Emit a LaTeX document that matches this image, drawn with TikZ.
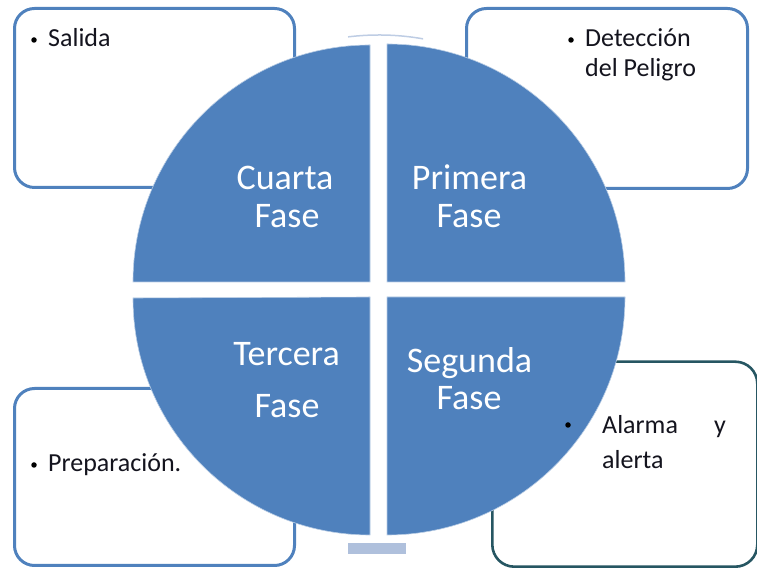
\documentclass[tikz,border=0pt]{standalone}
\usepackage{fontspec}
\setmainfont{Carlito}
\definecolor{qblue}{RGB}{79,129,189}
\definecolor{boxblue}{RGB}{79,129,189}
\definecolor{boxteal}{RGB}{38,86,98}
\definecolor{barblue}{RGB}{175,192,220}
\definecolor{arcblue}{RGB}{190,205,228}
\definecolor{itemtext}{RGB}{20,20,30}
\tikzset{
  quad/.style={fill=qblue, draw=qblue!40!white, line width=0.6pt},
  infobox/.style={draw=boxblue, line width=3pt, rounded corners=20pt, fill=white},
  tealbox/.style={draw=boxteal, line width=2.6pt, rounded corners=22pt, fill=white},
  phase/.style={text=white, font=\fontsize{36}{40}\selectfont, inner sep=0pt, anchor=base},
  item/.style={text=itemtext, font=\fontsize{26}{30}\selectfont, inner sep=0pt, anchor=base west},
  dot/.style={circle, fill=black, inner sep=0pt, minimum size=5.5pt}
}
\begin{document}
\begin{tikzpicture}[x=1pt,y=1pt]
\useasboundingbox (0,0) rectangle (757,569);
% boxes
\node[infobox, minimum width=280pt, minimum height=179pt, anchor=south west] (boxTL) at (13,380) {};
\node[infobox, minimum width=281pt, minimum height=180pt, anchor=south west] (boxTR) at (465,379) {};
\node[infobox, minimum width=280pt, minimum height=177pt, anchor=south west] (boxBL) at (13,2) {};
\node[tealbox, minimum width=265pt, minimum height=205pt, anchor=south west] (boxBR) at (491,1) {};
% faint arc and bar
\draw[arcblue, line width=1.5pt] (379,280) ++(97:254) arc[start angle=97, end angle=80, radius=254];
\fill[barblue] (348,15) rectangle (406,26);
% quadrants
\path[quad] (370,287) -- (133,287) arc[start angle=180, end angle=90, radius=237] -- cycle;
\path[quad] (387,287) -- (387,525) arc[start angle=90, end angle=0, radius=238] -- cycle;
\path[quad] (387,272) -- (625,272) arc[start angle=0, end angle=-90, radius=238] -- cycle;
\path[quad] (370,272) -- (370,34) arc[start angle=270, end angle=180, radius=237] -- cycle;
% phase labels
\node[phase] (q4a) at (285,379) {Cuarta};
\node[phase] (q4b) at (287,341) {Fase};
\node[phase] (q1a) at (469.5,379) {Primera};
\node[phase] (q1b) at (469,341) {Fase};
\node[phase] (q3a) at (286.5,203) {Tercera};
\node[phase] (q3b) at (287,151) {Fase};
\node[phase] (q2a) at (469.5,196) {Segunda};
\node[phase] (q2b) at (469,159) {Fase};
% items
\node[dot] (d1) at (34,529) {};
\node[item] (t1) at (48,522) {Salida};
\node[dot] (d2) at (571,529) {};
\node[item] (t2) at (585,522) {Detección};
\node[item] (t2b) at (585,492) {del Peligro};
\node[dot] (d3) at (568,144) {};
\node[item] (t3) at (602,135) {Alarma};
\node[item] (t3y) at (714,135) {y};
\node[item] (t3b) at (602,100) {alerta};
\node[dot] (d4) at (34,104) {};
\node[item] (t4) at (48,97) {Preparación.};
\end{tikzpicture}
\end{document}
